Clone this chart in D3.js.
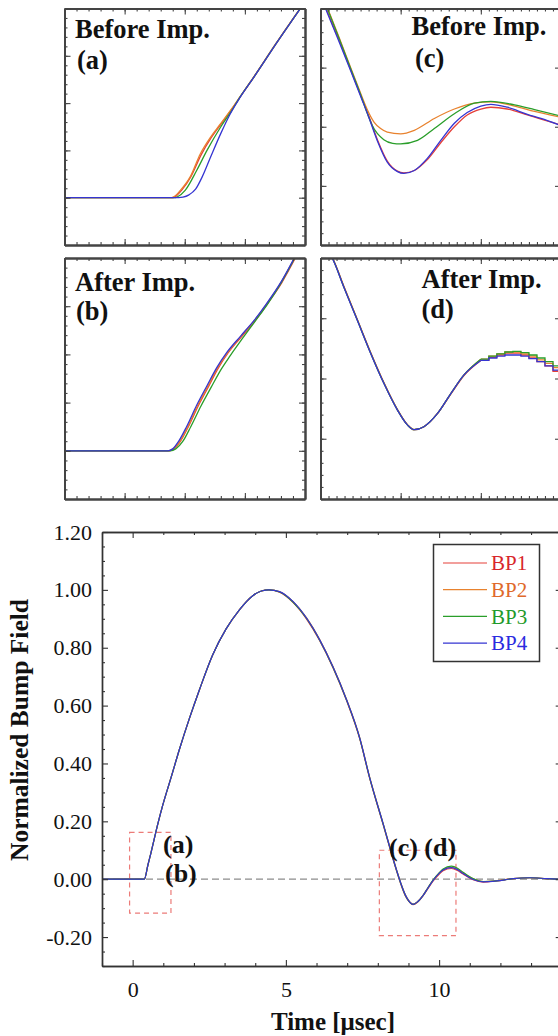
<!DOCTYPE html>
<html><head><meta charset="utf-8">
<script src="https://cdn.jsdelivr.net/npm/d3@7"></script>
<style>
body{margin:0;background:#fff;}
svg{display:block;}
svg text{font-family:"Liberation Serif","Times New Roman",Times,serif !important;fill:#111;}
</style>
</head><body>
<svg id="c" width="558" height="1036"></svg>
<script>
// ---------------- DATA ----------------
const seriesNames = ["BP1","BP2","BP3","BP4"];
// Main chart: time [usec] and normalized bump field per series
const mainT = [-1,0,0.3,0.38,0.5,0.6, 0.82,0.98,1.25,1.53,1.85, 2.18,2.61,3.05,3.49,3.92, 4.2,4.45,4.79,5.23,5.67, 6.1,6.54,6.97,7.41,7.73, 8.17,8.61,8.75,8.9,9.0, 9.15,9.3,9.48,9.65,9.8, 10.0,10.13,10.4,10.6,10.78, 11.11,11.44,11.88,12.42,12.96, 13.51,14.0];
const bp1Main = [0,0,0,0,0.05,0.092, 0.19,0.255,0.35,0.45,0.555, 0.655,0.775,0.865,0.932,0.98, 0.996,1.0,0.992,0.957,0.900, 0.825,0.730,0.620,0.485,0.350, 0.190,0.029,-0.017,-0.058,-0.075, -0.088,-0.079,-0.057,-0.030,-0.007, 0.017,0.029,0.037,0.030,0.018, -0.002,-0.010,-0.006,0.002,0.005, 0.002,0];
const bp2Main = [0,0,0,0,0.05,0.092, 0.19,0.255,0.35,0.45,0.555, 0.655,0.775,0.865,0.932,0.98, 0.996,1.0,0.994,0.960,0.904, 0.829,0.734,0.624,0.489,0.354, 0.194,0.033,-0.013,-0.054,-0.072, -0.086,-0.077,-0.055,-0.027,-0.004, 0.021,0.033,0.041,0.035,0.022, 0.001,-0.008,-0.005,0.002,0.005, 0.002,0];
const bp3Main = [0,0,0,0,0.05,0.092, 0.19,0.255,0.35,0.45,0.555, 0.655,0.775,0.865,0.932,0.98, 0.996,1.0,0.993,0.958,0.902, 0.827,0.732,0.622,0.487,0.352, 0.192,0.031,-0.015,-0.056,-0.074, -0.087,-0.078,-0.056,-0.027,-0.003, 0.022,0.035,0.045,0.038,0.024, 0.002,-0.008,-0.006,0.002,0.005, 0.002,0];
const bp4Main = [0,0,0,0,0.05,0.092, 0.19,0.255,0.35,0.45,0.555, 0.655,0.775,0.865,0.932,0.98, 0.996,1.0,0.994,0.960,0.903, 0.828,0.733,0.623,0.488,0.353, 0.193,0.032,-0.014,-0.055,-0.073, -0.087,-0.078,-0.056,-0.028,-0.005, 0.02,0.032,0.040,0.033,0.020, -0.001,-0.009,-0.006,0.002,0.005, 0.002,0];

const mainXTicks = [0,5,10];
const mainXMinor = [-1,1,2,3,4,6,7,8,9,11,12,13,14];
const mainYTicks = [-0.2,0,0.2,0.4,0.6,0.8,1.0,1.2];
const mainYMinor = [-0.3,-0.25,-0.15,-0.1,-0.05,0.05,0.1,0.15,0.25,0.3,0.35,0.45,0.5,0.55,0.65,0.7,0.75,0.85,0.9,0.95,1.05,1.1,1.15];

// Zoom boxes in main chart (time, field)
const boxAB = [-0.1, 1.25, -0.117, 0.162];
const boxCD = [8.05, 10.55, -0.195, 0.1];

// Inset (a): Before improvement, rising edge (relative units)
const aBP1 = [[0,0],[1.80,0],[1.84,0.02],[1.95,0.16],[2.1,0.44],[2.27,0.9],[2.44,1.27],[2.6,1.55],[2.77,1.85],[2.9,2.09],[3.15,2.55],[3.5,3.22],[3.95,4.05]];
const aBP2 = [[0,0],[1.78,0],[1.82,0.02],[1.93,0.16],[2.09,0.44],[2.26,0.93],[2.43,1.28],[2.6,1.57],[2.77,1.86],[2.9,2.1],[3.15,2.56],[3.5,3.23],[3.95,4.06]];
const aBP3 = [[0,0],[1.83,0],[1.88,0.02],[2.01,0.16],[2.2,0.58],[2.37,1.0],[2.595,1.49],[2.77,1.82],[2.9,2.09],[3.15,2.55],[3.5,3.22],[3.95,4.05]];
const aBP4 = [[0,0],[1.9,0],[1.97,0.01],[2.07,0.06],[2.18,0.18],[2.29,0.44],[2.43,0.86],[2.6,1.36],[2.76,1.78],[2.9,2.08],[3.15,2.55],[3.5,3.22],[3.95,4.05]];
// Inset (b): After improvement, rising edge
const bBP1 = [[0,0],[1.74,0],[1.82,0.04],[1.93,0.2],[2.06,0.5],[2.22,0.92],[2.39,1.32],[2.55,1.7],[2.72,2.03],[2.94,2.36],[3.16,2.68],[3.38,3.06],[3.61,3.48],[3.84,4.0]];
const bBP2 = [[0,0],[1.73,0],[1.81,0.04],[1.92,0.2],[2.05,0.5],[2.21,0.93],[2.38,1.33],[2.54,1.71],[2.71,2.03],[2.93,2.37],[3.15,2.69],[3.37,3.06],[3.6,3.49],[3.83,4.01]];
const bBP3 = [[0,0],[1.76,0],[1.85,0.04],[1.97,0.2],[2.1,0.5],[2.27,0.93],[2.44,1.32],[2.6,1.68],[2.76,1.98],[2.96,2.33],[3.16,2.67],[3.38,3.05],[3.6,3.48],[3.83,4.0]];
const bBP4 = [[0,0],[1.72,0],[1.8,0.04],[1.9,0.2],[2.03,0.5],[2.2,0.95],[2.37,1.35],[2.53,1.72],[2.7,2.04],[2.93,2.38],[3.15,2.7],[3.37,3.07],[3.6,3.5],[3.83,4.02]];
// Inset (c): Before improvement, undershoot
const cBP1 = [[0,4.25],[0.07,4.0],[0.215,3.52],[0.38,2.95],[0.525,2.45],[0.6,2.19],[0.71,1.78],[0.833,1.42],[0.96,1.25],[1.04,1.22],[1.17,1.26],[1.33,1.44],[1.5,1.73],[1.67,2.0],[1.83,2.2],[2.0,2.3],[2.125,2.33],[2.33,2.3],[2.58,2.2],[2.75,2.13],[3.0,2.03]];
const cBP2 = [[0,4.3],[0.09,4.0],[0.23,3.52],[0.39,2.95],[0.52,2.5],[0.58,2.3],[0.667,2.08],[0.75,1.97],[0.833,1.91],[1.0,1.88],[1.17,1.94],[1.42,2.14],[1.67,2.3],[1.92,2.4],[2.125,2.42],[2.42,2.35],[2.67,2.26],[3.0,2.16]];
const cBP3 = [[0,4.28],[0.085,4.0],[0.225,3.52],[0.385,2.95],[0.52,2.47],[0.58,2.24],[0.646,2.02],[0.79,1.78],[0.9,1.72],[1.0,1.71],[1.21,1.77],[1.42,1.97],[1.67,2.22],[1.92,2.4],[2.125,2.43],[2.42,2.37],[2.67,2.29],[3.0,2.18]];
const cBP4 = [[0,4.2],[0.0625,4.0],[0.208,3.52],[0.375,2.95],[0.52,2.45],[0.6,2.17],[0.71,1.76],[0.833,1.4],[0.96,1.24],[1.04,1.21],[1.17,1.26],[1.33,1.46],[1.5,1.77],[1.67,2.06],[1.83,2.24],[2.0,2.35],[2.125,2.38],[2.33,2.33],[2.58,2.21],[2.75,2.14],[3.0,2.02]];
// Inset (d): After improvement, undershoot (smooth part + sampled step part)
const dBP1 = [[0,4.27],[0.15,4.0],[0.295,3.52],[0.462,2.97],[0.63,2.42],[0.795,1.92],[0.962,1.48],[1.087,1.23],[1.17,1.15],[1.29,1.2],[1.46,1.42],[1.625,1.74],[1.79,2.05],[2.0,2.3]];
const dBP2 = [[0,4.26],[0.148,4.0],[0.292,3.52],[0.46,2.97],[0.627,2.42],[0.792,1.92],[0.96,1.48],[1.085,1.23],[1.168,1.15],[1.29,1.2],[1.46,1.42],[1.625,1.75],[1.79,2.06],[2.0,2.32]];
const dBP3 = [[0,4.26],[0.147,4.0],[0.291,3.52],[0.459,2.97],[0.626,2.42],[0.791,1.92],[0.959,1.48],[1.084,1.23],[1.167,1.15],[1.29,1.2],[1.46,1.42],[1.625,1.75],[1.79,2.06],[2.0,2.32]];
const dBP4 = [[0,4.25],[0.146,4.0],[0.29,3.52],[0.458,2.97],[0.625,2.42],[0.79,1.92],[0.958,1.48],[1.083,1.23],[1.167,1.15],[1.29,1.2],[1.46,1.42],[1.625,1.75],[1.79,2.06],[2.0,2.3]];
const dStepU = [2.0,2.1,2.2,2.3,2.4,2.5,2.6,2.7,2.8,2.9,3.0];
const dStepBP1 = [2.3,2.35,2.39,2.42,2.42,2.39,2.34,2.28,2.21,2.12,2.05];
const dStepBP2 = [2.32,2.37,2.41,2.44,2.44,2.41,2.37,2.31,2.25,2.18,2.11];
const dStepBP3 = [2.32,2.37,2.41,2.44,2.45,2.43,2.39,2.34,2.28,2.21,2.15];
const dStepBP4 = [2.3,2.34,2.37,2.39,2.39,2.37,2.33,2.28,2.21,2.14,2.07];

// Inset tick values (relative units)
const abXMajor = [0,1,2,3,4], abXMinor = d3.range(0,4.001,0.2);
const abYMajor = [-1,0,1,2,3,4], abYMinor = d3.range(-1,4.001,0.2);
const cdXMajor = [0,1,2,3], cdXMinor = d3.range(0,3.001,0.1);
const cdYMajor = [0,1,2,3,4], cdYMinor = d3.range(0,4.001,0.2);

// ---------------- DRAW ----------------
const FONT = '"Liberation Serif","Times New Roman",Times,serif';
const colors = {BP1:"#e5403a", BP2:"#e8822e", BP3:"#2a9e2a", BP4:"#3535d2"};
const textColors = {BP1:"#d8262a", BP2:"#e0692a", BP3:"#1f9a2a", BP4:"#2a2ae0"};
const svg = d3.select("#c");
let clipId = 0;

function frame(xs, ys, xMaj, xMin, yMaj, yMin, majLen, minLen, sw, col) {
  const [x0,x1] = xs.range(), [y0,y1] = ys.range();
  const g = svg.append("g");
  const add = (axis, tr) => {
    const a = g.append("g").attr("transform", tr).call(axis);
    a.selectAll("path.domain").attr("stroke", col).attr("stroke-width", sw);
    a.selectAll(".tick line").attr("stroke", col).attr("stroke-width", 1.1);
    a.selectAll("text").remove();
  };
  [[xMaj,majLen],[xMin,minLen]].forEach(([v,l]) => {
    add(d3.axisBottom(xs).tickValues(v).tickSize(-l).tickSizeOuter(0).tickFormat(""), `translate(0,${y0})`);
    add(d3.axisTop(xs).tickValues(v).tickSize(-l).tickSizeOuter(0).tickFormat(""), `translate(0,${y1})`);
  });
  [[yMaj,majLen],[yMin,minLen]].forEach(([v,l]) => {
    add(d3.axisLeft(ys).tickValues(v).tickSize(-l).tickSizeOuter(0).tickFormat(""), `translate(${x0},0)`);
    add(d3.axisRight(ys).tickValues(v).tickSize(-l).tickSizeOuter(0).tickFormat(""), `translate(${x1},0)`);
  });
}

function clipFor(xs, ys) {
  const id = "clip" + (clipId++);
  const [x0,x1] = xs.range(), [y0,y1] = ys.range();
  svg.append("clipPath").attr("id", id).append("rect")
    .attr("x", x0).attr("y", y1).attr("width", x1 - x0).attr("height", y0 - y1);
  return svg.append("g").attr("clip-path", `url(#${id})`);
}

function boldText(x, y, size, str) {
  return svg.append("text").attr("x", x).attr("y", y).style("font-family", FONT)
    .style("font-size", size + "px").style("font-weight", "bold").text(str);
}

function inset(xs, ys, seriesData, opts) {
  const g = clipFor(xs, ys);
  const line = d3.line().x(d => xs(d[0])).y(d => ys(d[1])).curve(d3.curveMonotoneX);
  const stepLine = d3.line().x(d => xs(d[0])).y(d => ys(d[1])).curve(d3.curveStepAfter);
  seriesNames.forEach((s, i) => {
    g.append("path").attr("d", line(seriesData[i])).attr("fill","none")
      .attr("stroke", colors[s]).attr("stroke-width", 1.3);
    if (opts.steps) {
      const pts = opts.stepU.map((u, k) => [u, opts.steps[i][k]]);
      g.append("path").attr("d", stepLine(pts)).attr("fill","none")
        .attr("stroke", colors[s]).attr("stroke-width", 1.3);
    }
  });
  frame(xs, ys, opts.xMaj, opts.xMin, opts.yMaj, opts.yMin, 6, 3, 2, "#444");
  boldText(opts.tx, opts.ty1, 26.5, opts.title);
  boldText(opts.lx, opts.ty2, 26.5, opts.label);
}

// Insets
const xAB = d3.scaleLinear([0,4],[64.5,305]);
const yA = d3.scaleLinear([-1,4],[245,8.5]);
const yB = d3.scaleLinear([-1,4],[499,258]);
const xCD = d3.scaleLinear([0,3],[320.5,561]);
const yC = d3.scaleLinear([0,4],[245,8.5]);
const yD = d3.scaleLinear([0,4],[499,258]);

inset(xAB, yA, [aBP1,aBP2,aBP3,aBP4], {xMaj:abXMajor,xMin:abXMinor,yMaj:abYMajor,yMin:abYMinor, title:"Before Imp.", label:"(a)", tx:75, lx:77, ty1:38, ty2:69});
inset(xAB, yB, [bBP1,bBP2,bBP3,bBP4], {xMaj:abXMajor,xMin:abXMinor,yMaj:abYMajor,yMin:abYMinor, title:"After Imp.", label:"(b)", tx:75, lx:76, ty1:290.5, ty2:320});
inset(xCD, yC, [cBP1,cBP2,cBP3,cBP4], {xMaj:cdXMajor,xMin:cdXMinor,yMaj:cdYMajor,yMin:cdYMinor, title:"Before Imp.", label:"(c)", tx:411.5, lx:415, ty1:35, ty2:66.5});
inset(xCD, yD, [dBP1,dBP2,dBP3,dBP4], {xMaj:cdXMajor,xMin:cdXMinor,yMaj:cdYMajor,yMin:cdYMinor, title:"After Imp.", label:"(d)", tx:421.5, lx:421.5, ty1:288, ty2:318,
  stepU:dStepU, steps:[dStepBP1,dStepBP2,dStepBP3,dStepBP4]});

// Main chart
const x = d3.scaleLinear([-1,14],[102,561.7]);
const y = d3.scaleLinear([-0.3,1.2],[966,532]);

// zero reference line
svg.append("line").attr("x1", x(-1)).attr("x2", x(14)).attr("y1", y(0)).attr("y2", y(0))
  .attr("stroke", "#8c8c8c").attr("stroke-width", 1.3).attr("stroke-dasharray", "7,4");
// zoom boxes
[boxAB, boxCD].forEach(b => {
  svg.append("rect").attr("x", x(b[0])).attr("y", y(b[3])).attr("width", x(b[1]) - x(b[0])).attr("height", y(b[2]) - y(b[3]))
    .attr("fill","none").attr("stroke","#ec7b78").attr("stroke-width",1.2).attr("stroke-dasharray","5,4");
});

const mg = clipFor(x, y);
const mainSeries = [bp1Main, bp2Main, bp3Main, bp4Main];
const mline = d3.line().x(d => x(d[0])).y(d => y(d[1])).curve(d3.curveMonotoneX);
seriesNames.forEach((s, i) => {
  mg.append("path").attr("d", mline(mainT.map((t, k) => [t, mainSeries[i][k]])))
    .attr("fill","none").attr("stroke", colors[s]).attr("stroke-width", 1.2);
});

frame(x, y, mainXTicks, mainXMinor, mainYTicks, mainYMinor, 6, 3, 1.4, "#333");

// tick labels
const xl = svg.append("g").attr("transform", `translate(0,966)`)
  .call(d3.axisBottom(x).tickValues(mainXTicks).tickSize(0).tickPadding(15).tickFormat(d3.format("d")));
xl.select("path.domain").remove();
xl.attr("font-family", null).attr("font-size", null);
xl.selectAll("text").style("font-size", "22px").style("font-family", FONT).style("fill", "#111");
const yl = svg.append("g").attr("transform", `translate(102,0)`)
  .call(d3.axisLeft(y).tickValues(mainYTicks).tickSize(0).tickPadding(10).tickFormat(d => d.toFixed(2)));
yl.select("path.domain").remove();
yl.attr("font-family", null).attr("font-size", null);
yl.selectAll("text").style("font-size", "22px").style("font-family", FONT).style("fill", "#111");

// axis titles
boldText(333, 1030, 25, "Time [\u03bcsec]").attr("text-anchor", "middle");
svg.append("text").attr("transform", "translate(28,730) rotate(-90)").attr("text-anchor", "middle")
  .style("font-family", FONT).style("font-size", "25.5px").style("font-weight", "bold").text("Normalized Bump Field");

// box labels
boldText(163, 852.5, 26, "(a)");
boldText(165, 881.5, 26, "(b)");
boldText(389, 856, 26, "(c) (d)");

// legend
const lg = svg.append("g");
lg.append("rect").attr("x", 433.5).attr("y", 544.5).attr("width", 106).attr("height", 117)
  .attr("fill", "#fff").attr("stroke", "#333").attr("stroke-width", 1.5);
seriesNames.forEach((s, i) => {
  const yy = 563 + i * 26.7;
  lg.append("line").attr("x1", 443).attr("x2", 487).attr("y1", yy).attr("y2", yy)
    .attr("stroke", colors[s]).attr("stroke-width", 1.2);
  lg.append("text").attr("x", 491).attr("y", yy).attr("dy", "0.35em")
    .style("font-family", FONT).style("font-size", "21px").style("fill", textColors[s]).text(s);
});
</script>
</body></html>
